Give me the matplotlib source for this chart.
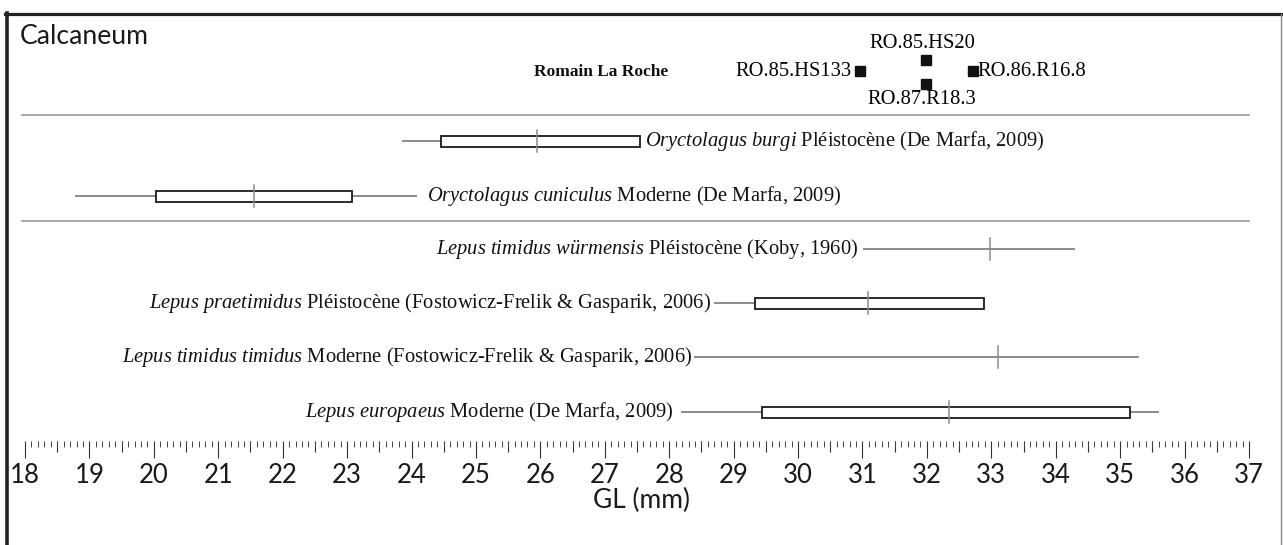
import matplotlib
matplotlib.use("Agg")
import matplotlib.pyplot as plt
from matplotlib.lines import Line2D
from matplotlib.patches import Rectangle
from matplotlib.ticker import FixedLocator
import numpy as np

plt.rcParams['mathtext.fontset'] = 'custom'
plt.rcParams['mathtext.it'] = 'Liberation Serif:italic'
plt.rcParams['mathtext.rm'] = 'Liberation Serif'
plt.rcParams['font.family'] = ['Liberation Serif', 'DejaVu Sans']

# ---------------- data ----------------
taxa = ["Oryctolagus burgi", "Oryctolagus cuniculus", "Lepus timidus würmensis",
        "Lepus praetimidus", "Lepus timidus timidus", "Lepus europaeus"]
periods = ["Pléistocène", "Moderne", "Pléistocène", "Pléistocène", "Moderne", "Moderne"]
sources = ["(De Marfa, 2009)", "(De Marfa, 2009)", "(Koby, 1960)",
           "(Fostowicz-Frelik & Gasparik, 2006)", "(Fostowicz-Frelik & Gasparik, 2006)",
           "(De Marfa, 2009)"]
gl_min = [23.85, 18.77, 31.01, 28.70, 28.39, 28.19]
gl_q1 = [24.45, 20.03, None, 29.33, None, 29.44]
gl_median = [25.94, 21.56, 32.98, 31.09, 33.10, 32.34]
gl_q3 = [27.55, 23.07, None, 32.89, None, 35.16]
gl_max = [27.55, 24.09, 34.30, 32.89, 35.30, 35.61]

site = "Romain La Roche"
specimens = ["RO.85.HS133", "RO.85.HS20", "RO.87.R18.3", "RO.86.R16.8"]
specimen_gl = [30.96, 31.99, 31.99, 32.71]

gl_ticks = list(range(18, 38))
x_label = "GL (mm)"
title = "Calcaneum"

# ---------------- layout ----------------
W, H = 1283, 545
fig = plt.figure(figsize=(W / 100, H / 100), dpi=100)
ruler_top = 441  # px from top
ax = fig.add_axes([0, (H - ruler_top) / H, 1, ruler_top / H])
ppu = (1249 - 25) / 19.0
ax.set_xlim(18 - 25 / ppu, 37 + (W - 1249) / ppu)
ax.set_ylim(ruler_top, 0)

row_y = [141, 196, 249, 303, 357, 412]
label_side = ["right", "right", "left", "left", "left", "left"]
label_gap = [5, 10, 5, 3, 2, 8]
box_h = 11
med_h = 22
whisker_c = "#8c8c8c"
txt_size = 14.8

for i, name in enumerate(taxa):
    y = row_y[i]
    ax.plot([gl_min[i], gl_max[i]], [y, y], color=whisker_c, lw=1.4, zorder=1,
            solid_capstyle='butt')
    if gl_q1[i] is not None:
        ax.add_patch(Rectangle((gl_q1[i], y - box_h / 2), gl_q3[i] - gl_q1[i], box_h,
                               facecolor='white', edgecolor='#1a1a1a', lw=1.3, zorder=2))
    ax.plot([gl_median[i], gl_median[i]], [y - med_h / 2, y + med_h / 2],
            color=whisker_c, lw=1.1, zorder=3)
    italic = r"$\mathit{" + name.replace(" ", r"\ ") + "}$"
    label = f"{italic} {periods[i]} {sources[i]}"
    if label_side[i] == "right":
        ax.annotate(label, xy=(gl_max[i], y), xytext=(label_gap[i], 0),
                    textcoords='offset pixels', ha='left', va='center',
                    fontsize=txt_size, color='#111111')
    else:
        ax.annotate(label, xy=(gl_min[i], y), xytext=(-label_gap[i], 0),
                    textcoords='offset pixels', ha='right', va='center',
                    fontsize=txt_size, color='#111111')

# Romain La Roche specimens
spec_dy = [0, -11, 13, 0]          # vertical offset of each square (px)
spec_pos = ["left", "above", "below", "right"]
sy = 71
for name, v, dy, pos in zip(specimens, specimen_gl, spec_dy, spec_pos):
    ax.plot([v], [sy + dy], marker='s', ms=7.3, color='#111111', ls='none')
    if pos == "left":
        ax.annotate(name, xy=(v, sy + dy), xytext=(-8, 0), textcoords='offset pixels',
                    ha='right', va='center', fontsize=txt_size)
    elif pos == "right":
        ax.annotate(name, xy=(v, sy + dy), xytext=(5, 0), textcoords='offset pixels',
                    ha='left', va='center', fontsize=txt_size)
    elif pos == "above":
        ax.annotate(name, xy=(v, sy + dy), xytext=(-4, 16), textcoords='offset pixels',
                    ha='center', va='center', fontsize=txt_size)
    else:
        ax.annotate(name, xy=(v, sy + dy), xytext=(-4, -15), textcoords='offset pixels',
                    ha='center', va='center', fontsize=txt_size)
fig.text(601 / W, 1 - 72 / H, site, ha='center', va='center', fontsize=12.5,
         fontweight='bold', color='#111111')

# separators
for yy in (115, 221):
    fig.add_artist(Line2D([22 / W, 1249 / W], [1 - yy / H, 1 - yy / H],
                          color='#9a9a9a', lw=1.2))

# frame
fig.add_artist(Line2D([5 / W, 1], [1 - 14 / H, 1 - 14 / H], color='#222222', lw=2.3))
fig.add_artist(Line2D([6.5 / W, 6.5 / W], [1 - 13 / H, 0], color='#222222', lw=2.6))
fig.add_artist(Line2D([1280.5 / W, 1280.5 / W], [1 - 14 / H, 0], color='#888888', lw=1.0))

fig.text(20 / W, 1 - 36 / H, title, ha='left', va='center', fontsize=19.2,
         family=['Lato', 'DejaVu Sans'], color='#1a1a1a')

# ruler (axis ticks)
for s in ax.spines.values():
    s.set_visible(False)
ax.yaxis.set_visible(False)
ax.set_xticks(gl_ticks)
ax.set_xticklabels([str(t) for t in gl_ticks], family=['Lato', 'DejaVu Sans'])
ax.xaxis.set_minor_locator(FixedLocator(np.arange(gl_ticks[0], gl_ticks[-1] + 0.001, 0.1)))
ax.tick_params(axis='x', which='major', direction='out', length=12.5, width=0.8,
               color='#333333', pad=3, labelsize=18.5, labelcolor='#1a1a1a')
ax.tick_params(axis='x', which='minor', direction='out', length=4.3, width=0.7,
               color='#444444')
sec = ax.secondary_xaxis('bottom')
sec.set_xticks(np.arange(gl_ticks[0] + 0.5, gl_ticks[-1], 1.0))
sec.tick_params(axis='x', which='major', direction='out', length=8, width=0.8,
                color='#333333', labelbottom=False)
sec.xaxis.set_minor_locator(FixedLocator([]))
for s in sec.spines.values():
    s.set_visible(False)
ax.set_xlabel(x_label, fontsize=19, family=['Lato', 'DejaVu Sans'], color='#1a1a1a',
              labelpad=0)

fig.savefig("out.png", dpi=100)
